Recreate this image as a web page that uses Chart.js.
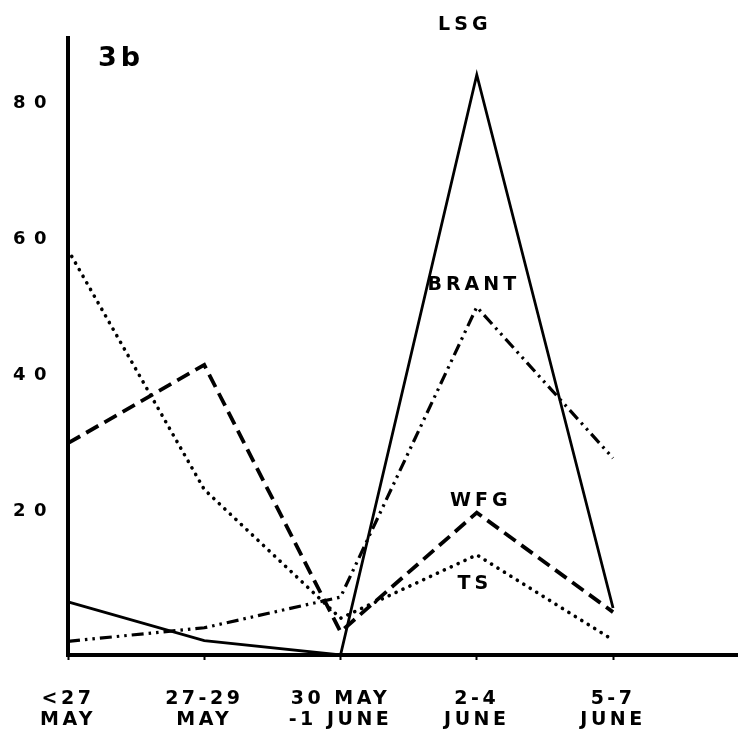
<!DOCTYPE html>
<html>
<head>
<meta charset="utf-8">
<title>3b</title>
<script src="https://cdn.jsdelivr.net/npm/chart.js@4.4.1/dist/chart.umd.min.js"></script>
<style>
  html, body { margin: 0; padding: 0; background: #fff; }
  #fig { display: block; }
</style>
</head>
<body>
<canvas id="fig" width="738" height="732"></canvas>
<script>
// values (3b)
var periods = [["<27", "MAY"], ["27-29", "MAY"], ["30 MAY", "-1 JUNE"], ["2-4", "JUNE"], ["5-7", "JUNE"]];
var period_index = [0, 1, 2, 3, 4];
var lsg = [7.8, 2.1, 0, 85.2, 6.9];
var brant = [2.0, 4.0, 8.5, 51.1, 28.9];
var wfg = [31.1, 42.6, 3.4, 20.9, 6.3];
var ts = [59.5, 24.3, 5.4, 14.7, 2.2];
var y_ticks = [20, 40, 60, 80];

var font_family = '"DejaVu Sans", "Liberation Sans", Arial, sans-serif';
Chart.defaults.font.family = font_family;
Chart.defaults.color = "#000";

function toPoints(values) {
  return values.map(function(v, i) { return { x: period_index[i], y: v }; });
}

// letter spacing per axis, the scan has very wide lettering
var axis_spacing = { x: "3.5px", y: "8.5px" };
var spacingPlugin = {
  id: "spacing",
  beforeDraw: function(chart) {
    Object.keys(axis_spacing).forEach(function(id) {
      var scale = chart.scales[id];
      if (!scale || scale._spaced) return;
      var draw = scale.drawLabels;
      scale.drawLabels = function(area) {
        this.ctx.save();
        this.ctx.letterSpacing = axis_spacing[id];
        draw.call(this, area);
        this.ctx.restore();
      };
      scale._spaced = true;
    });
  }
};

// names written next to the 2-4 june peak + the panel tag
var name_offsets = { "LSG": [-14, -50], "BRANT": [-5, -22], "WFG": [2, -12], "TS": [-4, 29] };
var labelPlugin = {
  id: "seriesNames",
  afterDraw: function(chart) {
    var ctx = chart.ctx;
    var xs = chart.scales.x;
    var ys = chart.scales.y;
    ctx.save();
    ctx.fillStyle = "#000";
    ctx.textAlign = "center";
    ctx.textBaseline = "middle";
    ctx.font = "bold 19px " + font_family;
    ctx.letterSpacing = "4px";
    chart.data.datasets.forEach(function(ds) {
      var peak = ds.data[3];
      var off = name_offsets[ds.label];
      ctx.fillText(ds.label, xs.getPixelForValue(peak.x) + off[0] + 2, ys.getPixelForValue(peak.y) + off[1]);
    });
    ctx.font = "bold 27px " + font_family;
    ctx.letterSpacing = "4px";
    ctx.fillText("3b", chart.chartArea.left + 53, chart.chartArea.top + 21);
    ctx.restore();
  }
};

var ctx = document.getElementById("fig");
var fig = new Chart(ctx, {
  type: "line",
  data: {
    datasets: [
      {
        label: "LSG",
        data: toPoints(lsg),
        borderColor: "#000",
        borderWidth: 2.8,
        fill: false
      },
      {
        label: "BRANT",
        data: toPoints(brant),
        borderColor: "#000",
        borderWidth: 3.2,
        borderDash: [12, 5, 2.5, 5, 2.5, 5],
        fill: false
      },
      {
        label: "WFG",
        data: toPoints(wfg),
        borderColor: "#000",
        borderWidth: 3.8,
        borderDash: [14, 7],
        fill: false
      },
      {
        label: "TS",
        data: toPoints(ts),
        borderColor: "#000",
        borderWidth: 3.6,
        borderDash: [0.1, 7.5],
        borderCapStyle: "round",
        fill: false
      }
    ]
  },
  options: {
    responsive: false,
    animation: false,
    devicePixelRatio: 1,
    clip: false,
    elements: { point: { radius: 0, hoverRadius: 0 }, line: { tension: 0 } },
    layout: { padding: { top: 38, right: 0, bottom: 0, left: 0 } },
    plugins: { legend: { display: false }, tooltip: { enabled: false } },
    scales: {
      x: {
        type: "linear",
        min: 0,
        max: 4.917,
        afterBuildTicks: function(scale) {
          scale.ticks = period_index.map(function(v) { return { value: v }; });
        },
        afterFit: function(scale) { scale.height = 77; },
        border: { display: true, color: "#000", width: 4 },
        grid: { display: true, drawOnChartArea: false, drawTicks: true, tickLength: 5, tickWidth: 2, tickColor: "#000" },
        ticks: {
          autoSkip: false,
          maxRotation: 0,
          padding: 29,
          font: { size: 19, weight: "bold", lineHeight: 1.1 },
          callback: function(v) { return periods[v]; }
        }
      },
      y: {
        type: "linear",
        min: 0,
        max: 90.6,
        afterBuildTicks: function(scale) {
          scale.ticks = y_ticks.map(function(v) { return { value: v }; });
        },
        afterFit: function(scale) { scale.width = 68; },
        border: { display: true, color: "#000", width: 4 },
        grid: { display: false, drawTicks: false },
        ticks: {
          padding: 13,
          labelOffset: -7,
          font: { size: 18, weight: "bold" }
        }
      }
    }
  },
  plugins: [spacingPlugin, labelPlugin]
});
</script>
</body>
</html>
